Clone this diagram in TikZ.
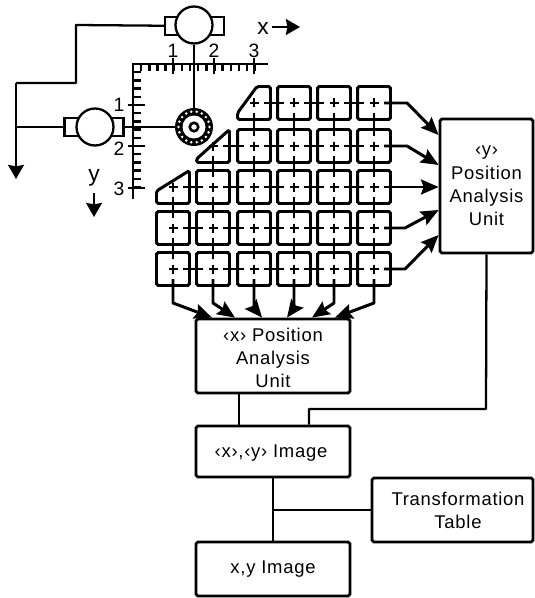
\documentclass[tikz,border=0pt]{standalone}
\usepackage{fontspec}
\setmainfont[LetterSpace=4]{Liberation Sans}
\usetikzlibrary{arrows.meta}

\begin{document}
\begin{tikzpicture}[
  x=0.02cm,
  y=-0.02cm,
  every node/.style={font=\fontsize{10.5}{13}\selectfont, align=center},
  wire/.style={line width=1.6pt},
  thin wire/.style={line width=1.3pt},
  feed/.style={line width=1.7pt, line join=round,
               -{Stealth[length=10pt, width=8.5pt, inset=1.5pt]}},
  outarrow/.style={line width=1.4pt,
               -{Stealth[length=8pt, width=9pt, inset=0.8pt]}},
  unitbox/.style={draw, line width=1.6pt, rounded corners=1pt, inner sep=0pt},
  cell/.style={draw, line width=1.7pt, rounded corners=1pt, inner sep=0pt,
               minimum size=0.66cm},
  cutcell/.style={line width=1.7pt, rounded corners=1pt, line join=round},
  motorbody/.style={draw, line width=1.4pt, minimum width=1.18cm,
                    minimum height=0.36cm, inner sep=0pt},
  motorcase/.style={circle, draw, fill=white, line width=1.3pt, inner sep=0pt,
                    minimum size=0.74cm},
  tick/.style={line width=1.4pt},
  majortick/.style={line width=1.5pt},
  scalenum/.style={font=\fontsize{11}{12}\selectfont, inner sep=0pt}
]
  \useasboundingbox (0,0) rectangle (534,598);

  % ---- the two scales ----
  \draw[majortick] (268,64) -- (133,64) -- (133,199);
  \foreach \i [evaluate=\i as \p using 133+8.15*\i] in {1,...,15}
    \draw[tick] (\p,64) -- (\p,71);
  \foreach \i [evaluate=\i as \p using 64+8.2*\i] in {1,...,15}
    \draw[tick] (133,\p) -- (141,\p);
  \foreach \p/\k in {173/1, 214/2, 254/3} {
    \draw[majortick] (\p,58) -- (\p,74);
    \node[scalenum] (numx\k) at (\p,51) {\k};
  }
  \foreach \p/\q/\k in {105/105/1, 146/149/2, 188/189/3} {
    \draw[majortick] (128,\p) -- (145,\p);
    \node[scalenum] (numy\k) at (119,\q) {\k};
  }

  % ---- motors and the lens carriage ----
  \node[motorbody] (motorxbody) at (194.5,26) {};
  \node[motorcase] (motorx) at (194,25) {};
  \node[motorbody] (motorybody) at (94,127) {};
  \node[motorcase] (motory) at (95,127) {};

  \fill (194,127) circle[radius=19];
  \foreach \a in {0,20,...,340}
    \fill[white] (194,127) ++(\a:15.5) circle[radius=1.4];
  \node[circle, fill=white, inner sep=0pt, minimum size=0.46cm] (lens) at (194,127) {};
  \node[circle, draw, line width=1.5pt, inner sep=0pt, minimum size=0.17cm] (lenscore) at (194,127) {};
  \node[circle, inner sep=0pt, minimum size=0.76cm] (carriage) at (194,127) {};

  \draw[thin wire] (motorx) -- (carriage);
  \draw[thin wire] (motorybody) -- (carriage);

  % ---- motor leads ----
  \coordinate (leadx) at (76,25);
  \coordinate (leadjoin) at (16,83);
  \coordinate (leadend) at (16,179);
  \draw[thin wire, line join=round] (motorxbody) -- (leadx) -- (76,83) -- (leadjoin);
  \draw[outarrow] (leadjoin) -- (leadend);
  \draw[thin wire] (motorybody) -- (leadjoin |- motorybody);

  % ---- axis names ----
  \node[font=\fontsize{13}{14}\selectfont, inner sep=0pt] (namex) at (263,28) {x};
  \coordinate (namexend) at (300,27);
  \draw[outarrow] (272,27) -- (namexend);
  \node[font=\fontsize{13}{14}\selectfont, inner sep=0pt] (namey) at (94,178) {y};
  \coordinate (nameyend) at (94,217);
  \draw[outarrow] (94,193) -- (nameyend);

  % ---- square cells ----
  \foreach \r/\y/\cols in {1/103/{4/294,5/334,6/374},
                           2/146/{3/254,4/294,5/334,6/374},
                           3/187/{2/213,3/254,4/294,5/334,6/374},
                           4/228/{1/173,2/213,3/254,4/294,5/334,6/374},
                           5/269/{1/173,2/213,3/254,4/294,5/334,6/374}}
    \foreach \c/\x in \cols
      \node[cell] (c-\r-\c) at (\x,\y) {};

  % ---- cells cut by the diagonal ----
  \coordinate (c-1-3) at (254,103);
  \coordinate (c-2-2) at (213,146);
  \coordinate (c-3-1) at (173,187);
  \draw[cutcell, shift={(254,103)}] (3,-16.5) -- (16.5,-16.5) -- (16.5,16.5)
    -- (-16.5,16.5) -- (-16.5,10) -- cycle;
  \draw[cutcell, shift={(213,146)}] (16.5,-16.5) -- (16.5,16.5) -- (-16.5,16.5)
    -- (-16.5,13) -- cycle;
  \draw[cutcell, shift={(173,187)}] (16.5,-16.5) -- (16.5,16.5) -- (-16.5,16.5)
    -- (-16.5,4) -- cycle;

  % ---- crosses in the cells ----
  \foreach \r/\first in {1/3, 2/2, 3/1, 4/1, 5/1}
    \foreach \c in {\first,...,6} {
      \draw[wire] (c-\r-\c.center) ++(-4.5,0) -- ++(9,0);
      \draw[wire] (c-\r-\c.center) ++(0,-4.5) -- ++(0,9);
    }

  % ---- row and column wires ----
  \foreach \r/\first in {1/3, 2/2, 3/1, 4/1, 5/1}
    \foreach \c in {\first,...,5} {
      \pgfmathtruncatemacro{\n}{\c+1}
      \draw[wire, shorten <=0.2cm, shorten >=0.2cm] (c-\r-\c.center) -- (c-\r-\n.center);
    }
  \foreach \c/\first in {1/3, 2/2, 3/1, 4/1, 5/1, 6/1}
    \foreach \r in {\first,...,4} {
      \pgfmathtruncatemacro{\n}{\r+1}
      \draw[wire, shorten <=0.2cm, shorten >=0.2cm] (c-\r-\c.center) -- (c-\n-\c.center);
    }

  % ---- analysis units and images ----
  \node[unitbox, minimum width=1.86cm, minimum height=2.68cm] (ypos) at (486.5,186)
    {‹y›\\[0.6pt]Position\\Analysis\\Unit};
  \node[unitbox, minimum width=3.08cm, minimum height=1.48cm] (xpos) at (273,356)
    {\rule{0pt}{10pt}‹x› Position\\Analysis\\Unit};
  \node[unitbox, minimum width=3.08cm, minimum height=1.02cm, text depth=0pt] (xyraw) at (273,451.5)
    {\hspace{-0.08cm}‹x›,‹y› Image};
  \node[unitbox, minimum width=3.08cm, minimum height=1.08cm] (xyimg) at (273,569)
    {x,y Image};
  \node[unitbox, minimum width=3.22cm, minimum height=1.28cm] (table) at (452.5,510)
    {\hspace{0.22cm}Transformation\\\hspace{0.22cm}Table};

  % ---- feeds into the y unit ----
  \foreach \r/\bx/\ey in {1/407/135, 2/407/165, 4/405/210, 5/405/235}
    \draw[feed, shorten <=0.2cm] (c-\r-6.center) -- (\bx,0 |- c-\r-6.center) -- (ypos.west |- 0,\ey);
  \draw[feed, shorten <=0.2cm] (c-3-6.center) -- (ypos.west |- c-3-6.center);

  % ---- feeds into the x unit ----
  \foreach \c/\by/\ex in {1/303/212, 2/303/235, 3/308/262, 4/308/287, 5/303/312, 6/303/335}
    \draw[feed, shorten <=0.2cm] (c-5-\c.center) -- (c-5-\c.center |- 0,\by) -- (\ex,0 |- xpos.north);

  % ---- lines between the units ----
  \draw[wire] (xpos.south -| 239,0) -- (xyraw.north -| 239,0);
  \draw[thin wire, line join=round] (ypos.south) -- (486,409) -- (309,409) -- (xyraw.north -| 309,0);
  \draw[wire] (xyraw) -- (xyimg);
  \draw[thin wire] (table.west) -- (table.west -| xyraw);
\end{tikzpicture}
\end{document}
